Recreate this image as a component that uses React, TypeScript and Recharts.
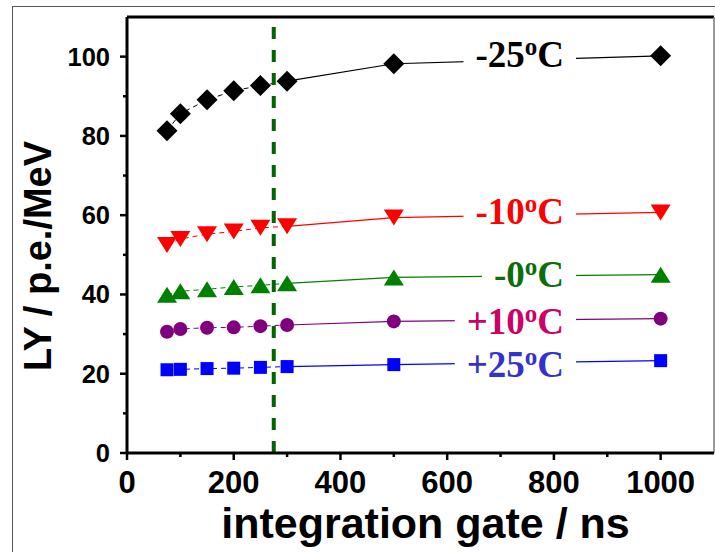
import { useLayoutEffect, useRef, useState } from 'react';
import {
  ComposedChart,
  Line,
  XAxis,
  YAxis,
  ReferenceLine,
  ReferenceDot,
} from 'recharts';

// integration gate (ns)
const GATES = [75, 100, 150, 200, 250, 300, 500, 1000];

// light yield (p.e./MeV) per temperature
const LY_M25 = [81.3, 85.6, 89.1, 91.4, 92.7, 93.8, 98.2, 100.2];
const LY_M10 = [52.5, 54.0, 55.2, 55.9, 56.8, 57.2, 59.4, 60.7];
const LY_M0 = [39.9, 40.8, 41.3, 41.9, 42.3, 42.8, 44.3, 45.0];
const LY_P10 = [30.6, 31.3, 31.6, 31.7, 32.0, 32.3, 33.2, 33.9];
const LY_P25 = [21.0, 21.1, 21.3, 21.4, 21.6, 21.8, 22.3, 23.3];

const TEMP_LABELS = ['-25', '-10', '-0', '+10', '+25'];

const X_TICKS = [0, 100, 200, 300, 400, 500, 600, 700, 800, 900, 1000];
const Y_TICKS = [0, 10, 20, 30, 40, 50, 60, 70, 80, 90, 100];

const GATE_CUT = 275;
const LABEL_AT = 819;
const DASH_END = 300;

type Shape = 'diamond' | 'down' | 'up' | 'circle' | 'square';

const STYLES: { line: string; text: string; shape: Shape; dy: number }[] = [
  { line: '#000000', text: '#000000', shape: 'diamond', dy: 7 },
  { line: '#ff0000', text: '#ff0000', shape: 'down', dy: 9 },
  { line: '#008000', text: '#0b6e0b', shape: 'up', dy: 11 },
  { line: '#800080', text: '#cc0066', shape: 'circle', dy: 14 },
  { line: '#0000ff', text: '#3333cc', shape: 'square', dy: 14 },
];

const SERIES = [LY_M25, LY_M10, LY_M0, LY_P10, LY_P25].map((vals, i) => ({
  name: TEMP_LABELS[i],
  points: GATES.map((x, j) => ({ x, y: vals[j] })),
  ...STYLES[i],
}));

function interpAt(points: { x: number; y: number }[], x: number) {
  for (let i = 1; i < points.length; i++) {
    const a = points[i - 1];
    const b = points[i];
    if (x >= a.x && x <= b.x) return a.y + ((b.y - a.y) * (x - a.x)) / (b.x - a.x);
  }
  return points[points.length - 1].y;
}

function Marker({ cx, cy, shape, color }: { cx: number; cy: number; shape: Shape; color: string }) {
  if (cx == null || cy == null) return null;
  switch (shape) {
    case 'diamond':
      return <polygon points={`${cx},${cy - 10.5} ${cx + 10.5},${cy} ${cx},${cy + 10.5} ${cx - 10.5},${cy}`} fill={color} />;
    case 'down':
      return <polygon points={`${cx - 10},${cy - 8} ${cx + 10},${cy - 8} ${cx},${cy + 8}`} fill={color} />;
    case 'up':
      return <polygon points={`${cx - 10},${cy + 8} ${cx + 10},${cy + 8} ${cx},${cy - 8}`} fill={color} />;
    case 'circle':
      return <circle cx={cx} cy={cy} r={7} fill={color} />;
    default:
      return <rect x={cx - 6.5} y={cy - 6.5} width={13} height={13} fill={color} />;
  }
}

function TempLabel({ cx, cy, label, color, dy }: { cx: number; cy: number; label: string; color: string; dy: number }) {
  const ref = useRef<SVGTextElement>(null);
  const [box, setBox] = useState<{ x: number; w: number } | null>(null);
  useLayoutEffect(() => {
    if (ref.current) {
      const b = ref.current.getBBox();
      setBox({ x: b.x, w: b.width });
    }
  }, [cx, cy]);
  return (
    <g>
      {box && <rect x={box.x - 12} y={cy - 7} width={box.w + 24} height={14} fill="#fff" />}
      <text
        ref={ref}
        x={cx}
        y={cy + dy}
        textAnchor="end"
        fill={color}
        fontFamily="'Liberation Serif', 'Times New Roman', serif"
        fontWeight="bold"
        fontSize={37}
      >
        {label}
        <tspan fontSize={25} dy={-12}>o</tspan>
        <tspan dy={12}>C</tspan>
      </text>
    </g>
  );
}

const SANS = "'Liberation Sans', Arial, sans-serif";

function YTick(props: any) {
  const { x, y, payload } = props;
  const major = payload.value % 20 === 0;
  return (
    <g>
      <line x1={x - (major ? 7 : 4)} x2={x} y1={y} y2={y} stroke="#000" strokeWidth={2.5} />
      {major && (
        <text x={x - 17} y={y + 9} textAnchor="end" fontFamily={SANS} fontWeight="bold" fontSize={25.5} fill="#000">
          {payload.value}
        </text>
      )}
    </g>
  );
}

function XTick(props: any) {
  const { x, y, payload } = props;
  const major = payload.value % 200 === 0;
  return (
    <g>
      <line x1={x} x2={x} y1={y} y2={y + (major ? 7 : 4)} stroke="#000" strokeWidth={2.5} />
      {major && (
        <text x={x} y={y + 40} textAnchor="middle" fontFamily={SANS} fontWeight="bold" fontSize={31} fill="#000">
          {payload.value}
        </text>
      )}
    </g>
  );
}

export default function App() {
  return (
    <div style={{ position: 'absolute', left: 0, top: 0, width: 715, height: 552, overflow: 'hidden', background: '#fff' }}>
      <div
        style={{
          position: 'absolute',
          left: 12,
          top: 6,
          width: 720,
          height: 560,
          border: '1.5px solid #555',
        }}
      />
      <div style={{ position: 'absolute', left: 0, top: 0 }}>
        <ComposedChart width={715} height={552} margin={{ top: 17, right: 1, bottom: 0, left: 0 }}>
          <XAxis
            dataKey="x"
            type="number"
            domain={[0, 1100]}
            ticks={X_TICKS}
            interval={0}
            height={99}
            tickSize={0}
            tickMargin={0}
            tickLine={false}
            tick={<XTick />}
            axisLine={{ stroke: '#000', strokeWidth: 3 }}
            allowDataOverflow
            label={(p: any) => {
              const vb = p.viewBox;
              return (
                <text
                  x={vb.x + vb.width / 2 + 5}
                  y={vb.y + 85}
                  textAnchor="middle"
                  fontFamily={SANS}
                  fontWeight="bold"
                  fontSize={43}
                  fill="#000"
                >
                  integration gate / ns
                </text>
              );
            }}
          />
          <YAxis
            type="number"
            domain={[0, 110]}
            ticks={Y_TICKS}
            interval={0}
            width={127}
            tickSize={0}
            tickMargin={0}
            tickLine={false}
            tick={<YTick />}
            axisLine={{ stroke: '#000', strokeWidth: 3 }}
            allowDataOverflow
            label={(p: any) => {
              const vb = p.viewBox;
              const cx = vb.x + 38;
              const cy = vb.y + vb.height / 2 + 21;
              return (
                <text
                  x={cx}
                  y={cy}
                  transform={`rotate(-90, ${cx}, ${cy})`}
                  textAnchor="middle"
                  dominantBaseline="central"
                  fontFamily={SANS}
                  fontWeight="bold"
                  fontSize={38}
                  fill="#000"
                >
                  LY / p.e./MeV
                </text>
              );
            }}
          />
          <ReferenceLine y={110} stroke="#000" strokeWidth={3} />
          <ReferenceLine x={1100} stroke="#777" strokeWidth={1.5} />

          {SERIES.map((s) => (
            <Line
              key={`${s.name}-dash`}
              data={s.points.filter((p) => p.x <= DASH_END)}
              dataKey="y"
              stroke={s.line}
              strokeWidth={1}
              strokeDasharray="5 4"
              dot={false}
              activeDot={false}
              isAnimationActive={false}
            />
          ))}
          {SERIES.map((s) => (
            <Line
              key={`${s.name}-solid`}
              data={s.points.filter((p) => p.x >= DASH_END)}
              dataKey="y"
              stroke={s.line}
              strokeWidth={1.2}
              dot={false}
              activeDot={false}
              isAnimationActive={false}
            />
          ))}
          {SERIES.map((s) => (
            <ReferenceDot
              key={`${s.name}-label`}
              x={LABEL_AT}
              y={interpAt(s.points, LABEL_AT - 100)}
              r={0}
              shape={(p: any) => <TempLabel cx={p.cx} cy={p.cy} label={s.name} color={s.text} dy={s.dy} />}
            />
          ))}
          {SERIES.map((s) => (
            <Line
              key={`${s.name}-marks`}
              data={s.points}
              dataKey="y"
              stroke="none"
              strokeWidth={0}
              activeDot={false}
              isAnimationActive={false}
              dot={(p: any) => (
                <Marker key={`${s.name}-${p.index}`} cx={p.cx} cy={p.cy} shape={s.shape} color={s.line} />
              )}
            />
          ))}
          <ReferenceLine x={GATE_CUT} stroke="#006400" strokeWidth={4} strokeDasharray="12 11" />
        </ComposedChart>
      </div>
    </div>
  );
}
